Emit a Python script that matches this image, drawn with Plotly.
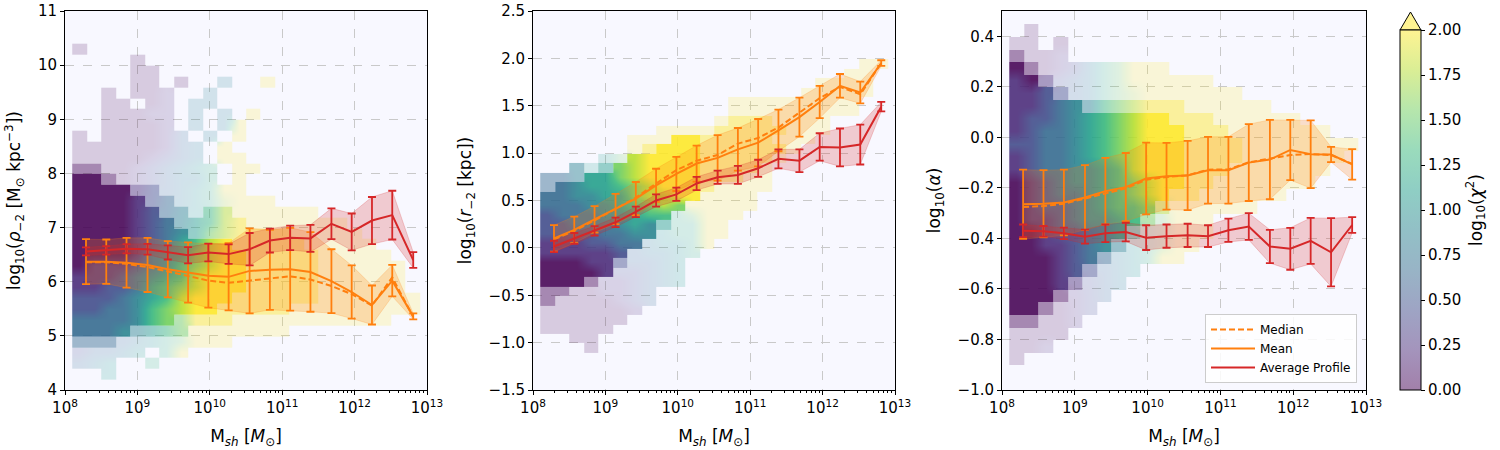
import math
import plotly.graph_objects as go
import plotly.express as px

# ---------------- data ----------------
mass_bins = [8.29, 8.57, 8.85, 9.14, 9.42, 9.70, 9.98, 10.26, 10.55,
             10.83, 11.11, 11.39, 11.68, 11.96, 12.24, 12.52, 12.81]   # log10 M_sh

rho_mean = [6.37, 6.37, 6.35, 6.31, 6.23, 6.17, 6.11, 6.09, 6.20, 6.22,
            6.23, 6.18, 6.01, 5.81, 5.57, 6.02, 5.36]
rho_mean_err = [0.415, 0.41, 0.46, 0.50, 0.52, 0.555, 0.59, 0.62, 0.785, 0.74,
                0.765, 0.735, 0.59, 0.49, 0.36, 0.29, 0.055]
rho_median = [6.36, 6.36, 6.33, 6.27, 6.19, 6.11, 6.02, 5.98, 6.02, 6.05,
              6.10, 6.04, 5.92, 5.77, 5.56, 6.08, 5.35]
rho_avg = [6.56, 6.58, 6.61, 6.60, 6.54, 6.49, 6.54, 6.51, 6.60, 6.76,
           6.81, 6.80, 7.07, 6.92, 7.13, 7.23, 6.40]
rho_avg_err = [0.075, 0.078, 0.085, 0.10, 0.13, 0.15, 0.165, 0.18, 0.30, 0.22,
               0.225, 0.25, 0.285, 0.34, 0.435, 0.45, 0.145]

r_mean = [0.10, 0.19, 0.30, 0.41, 0.52, 0.66, 0.78, 0.89, 0.95, 1.04,
          1.11, 1.24, 1.38, 1.54, 1.71, 1.64, 1.95]
r_mean_err = [0.14, 0.14, 0.14, 0.16, 0.175, 0.175, 0.18, 0.19, 0.24, 0.225,
              0.25, 0.22, 0.205, 0.17, 0.125, 0.115, 0.03]
r_median = [0.09, 0.18, 0.29, 0.41, 0.53, 0.68, 0.82, 0.92, 0.98, 1.10,
            1.16, 1.27, 1.43, 1.58, 1.70, 1.62, 1.95]
r_avg = [0.015, 0.10, 0.18, 0.27, 0.38, 0.50, 0.565, 0.68, 0.745, 0.77,
         0.84, 0.94, 0.92, 1.065, 1.06, 1.09, 1.49]
r_avg_err = [0.06, 0.057, 0.05, 0.05, 0.055, 0.065, 0.07, 0.07, 0.07, 0.095,
             0.09, 0.10, 0.12, 0.145, 0.20, 0.21, 0.05]

a_mean = [-0.265, -0.263, -0.258, -0.238, -0.213, -0.197, -0.163, -0.154, -0.151,
          -0.130, -0.130, -0.100, -0.088, -0.050, -0.067, -0.068, -0.107]
a_mean_err = [0.137, 0.133, 0.13, 0.128, 0.132, 0.135, 0.142, 0.132, 0.137,
              0.132, 0.132, 0.152, 0.157, 0.119, 0.134, 0.03, 0.06]
a_median = [-0.276, -0.272, -0.263, -0.242, -0.220, -0.202, -0.168, -0.157, -0.150,
            -0.128, -0.127, -0.099, -0.084, -0.070, -0.066, -0.070, -0.105]
a_avg = [-0.370, -0.372, -0.380, -0.393, -0.380, -0.375, -0.397, -0.391, -0.388,
         -0.391, -0.368, -0.353, -0.432, -0.441, -0.410, -0.455, -0.347]
a_avg_err = [0.025, 0.021, 0.023, 0.028, 0.035, 0.037, 0.049, 0.046, 0.046,
             0.043, 0.046, 0.053, 0.066, 0.083, 0.091, 0.135, 0.031]

# Scatter cloud, read as a coarse grid of cells (0.2 dex in mass).
# char: '.' empty, digit = dense cell, UPPER = medium, lower = sparse;
# the level (0-9 / A-J / a-j) is the typical log10(chi^2) colour (0 -> 0, 9 -> 2).
cloud_mass_start = 8.1
cloud_mass_step = 0.2

rho_cloud_top, rho_cloud_step = 10.4, 0.2
rho_cloud = [
    "........................",
    "a.......................",
    "....a...................",
    "....aa..................",
    "....aa.a..e..j..........",
    "..a.aab..e..............",
    "..aa.ab.ee..............",
    "..aaabb.e.e.j...........",
    "..aaaab.e.ej............",
    "a.aaaabd.e.j............",
    "aaaaaabde.j.............",
    "aaaaabcde.jj............",
    "AAaabcdefg.jj...........",
    "00Aabcdeeg.j............",
    "0000BCdefgjj............",
    "00001CDefgijjj..........",
    "000012DEfGIjjjjjj.......",
    "0000123EFGIJjjjjjjj.....",
    "00001234FHIJJJJjjjjj....",
    "00001235689JJJJJjjjjj...",
    "000013457899JJJJJjjjjj..",
    "011123467899JJJJJjjjjjj.",
    "111234568999JJJJJjjjjjj.",
    "112235678999JJJJJjjjjjj.",
    "22234568999JJJJJJjjjjjjj",
    "2233467899JJJJJjjjjjjjjj",
    "3333467HJJJjjjjjjjjjjj..",
    "3334EFGHjjjjjjj.........",
    "DDDdefghjjj.............",
    "cddef.gj................",
    "def..g..................",
    "..f.....................",
]

r_cloud_top, r_cloud_step = 2.0, 0.1
r_cloud = [
    "........................",
    "......................jj",
    ".....................jj.",
    "...................jjjj.",
    "..................jjjjj.",
    ".............jjjjjjjjj..",
    ".............jjjjjjjjj..",
    "............jJJJjjjj....",
    "........jjjjJJJJJjjj....",
    "......jjj99JJJJJjjj.....",
    "......jJ999JJJJJJj......",
    "....fh89999JJJJJj.......",
    "..EfF789999JJJJj........",
    "DDE55789999JJJjj........",
    "D3455678999Jjjjj........",
    "33445578899jjjj.........",
    "3334456787jjjjj.........",
    "233344566ghjjj..........",
    "22333454Fggjj...........",
    "22223344fggjj...........",
    "1112233effgj............",
    "111112deefg.............",
    "00011Cddef..............",
    "00001ccdef..............",
    "000Abbcdef..............",
    "AAaabbcd................",
    "Aaaaabcd................",
    "aaaaaab.................",
    "aaaaaa..................",
    "aaaaa...................",
    "..aa....................",
    "...a....................",
    "........................",
    "........................",
    "........................",
    "........................",
]

a_cloud_top, a_cloud_step = 0.45, 0.05
a_cloud = [
    "........................",
    ".a......................",
    "aa.a....................",
    "Aaab....................",
    "0Aabceghjjj.............",
    "10Bcdeghjjjjjj..........",
    "112Cdeghijjjjjjj........",
    "11234EGHIJJJjjjjjj......",
    "12234567899JJJjjjjjj....",
    "123345678999JJJjjjjjjj..",
    "223345678999JJJJjjjjjjjj",
    "123345678999JJJJjjjjjjj.",
    "123344568999JJJjjjjjjj..",
    "012344567899JJjjjjjjj...",
    "01233456789JJjjjjjj.....",
    "0122345667Ijjjjjj.......",
    "011234456Hhjjj..........",
    "00122345Fghjjj..........",
    "0011234Efghjj...........",
    "000123Defgjj............",
    "00012Cdef...............",
    "0001Bcde................",
    "000Abcd.................",
    "00Aabc..................",
    "AAaab...................",
    "aaaa....................",
    "aab.....................",
    "a.......................",
    "........................",
    "........................",
]

x_tick_exponents = [8, 9, 10, 11, 12, 13]
chi_ticks = [0.0, 0.25, 0.5, 0.75, 1.0, 1.25, 1.5, 1.75, 2.0]

# ---------------- styling ----------------
FONT = "DejaVu Sans"
ORANGE = "#ff7f0e"
RED = "#d62728"
W, H = 1500, 450

def px2x(p):
    return p / W

def px2y(p):
    return 1 - p / H

panels = [
    dict(xd=(65, 427), ya=(4, 11), yt=list(range(4, 12)), fmt="d",
         title="log<sub>10</sub>(<i>ρ</i><sub>−2</sub> [M<sub>⊙</sub> kpc<sup>−3</sup>])",
         mean=rho_mean, err=rho_mean_err, med=rho_median, avg=rho_avg, aerr=rho_avg_err,
         cloud=rho_cloud, ctop=rho_cloud_top, cstep=rho_cloud_step),
    dict(xd=(533, 895), ya=(-1.5, 2.5), yt=[-1.5, -1.0, -0.5, 0.0, 0.5, 1.0, 1.5, 2.0, 2.5], fmt=".1f",
         title="log<sub>10</sub>(<i>r</i><sub>−2</sub> [kpc])",
         mean=r_mean, err=r_mean_err, med=r_median, avg=r_avg, aerr=r_avg_err,
         cloud=r_cloud, ctop=r_cloud_top, cstep=r_cloud_step),
    dict(xd=(1002, 1366), ya=(-1.0, 0.5), yt=[-1.0, -0.8, -0.6, -0.4, -0.2, 0.0, 0.2, 0.4], fmt=".1f",
         title="log<sub>10</sub>(<i>α</i>)",
         mean=a_mean, err=a_mean_err, med=a_median, avg=a_avg, aerr=a_avg_err,
         cloud=a_cloud, ctop=a_cloud_top, cstep=a_cloud_step),
]


def parse_cloud(rows, ytop, dy):
    ncol = 24
    rows = [r.ljust(ncol, ".")[:ncol] for r in rows][::-1]   # bottom row first
    nrow = len(rows)
    layers = {k: [[None] * ncol for _ in range(nrow)] for k in ("dense", "medium", "sparse")}
    for i, row in enumerate(rows):
        for j, ch in enumerate(row):
            if ch.isdigit():
                layers["dense"][i][j] = int(ch) * 2 / 9
            elif "A" <= ch <= "J":
                layers["medium"][i][j] = (ord(ch) - 65) * 2 / 9
            elif "a" <= ch <= "j":
                layers["sparse"][i][j] = (ord(ch) - 97) * 2 / 9
    ybot = ytop - (nrow - 1) * dy
    ys = [ybot + dy * (i + 0.5) for i in range(nrow)]
    xs = [cloud_mass_start + cloud_mass_step * (j + 0.5) for j in range(ncol)]
    return xs, ys, layers


fig = go.Figure()
opac = {"dense": 0.88, "medium": 0.45, "sparse": 0.18}

for k, p in enumerate(panels):
    xa = "x" if k == 0 else f"x{k+1}"
    ya = "y" if k == 0 else f"y{k+1}"
    xs, ys, layers = parse_cloud(p["cloud"], p["ctop"], p["cstep"])
    for name in ("sparse", "medium", "dense"):
        fig.add_trace(go.Heatmap(x=xs, y=ys, z=layers[name], colorscale="Viridis",
                                 zmin=0, zmax=2, showscale=False, opacity=opac[name],
                                 hoverinfo="skip", xaxis=xa, yaxis=ya, zsmooth="best"))
    # bands
    for cen, err, fc in ((p["mean"], p["err"], "rgba(255,127,14,0.22)"),
                         (p["avg"], p["aerr"], "rgba(214,39,40,0.22)")):
        up = [c + e for c, e in zip(cen, err)]
        lo = [c - e for c, e in zip(cen, err)]
        fig.add_trace(go.Scatter(x=mass_bins + mass_bins[::-1], y=up + lo[::-1],
                                 fill="toself", fillcolor=fc, mode="lines",
                                 line=dict(color=fc, width=1), hoverinfo="skip",
                                 showlegend=False, xaxis=xa, yaxis=ya))
    leg = (k == 2)
    fig.add_trace(go.Scatter(x=mass_bins, y=p["med"], mode="lines", name="Median",
                             line=dict(color=ORANGE, width=2, dash="6px,3px"),
                             showlegend=leg, xaxis=xa, yaxis=ya))
    fig.add_trace(go.Scatter(x=mass_bins, y=p["mean"], mode="lines", name="Mean",
                             line=dict(color=ORANGE, width=2),
                             error_y=dict(type="data", array=p["err"], color=ORANGE,
                                          thickness=1.8, width=4),
                             showlegend=leg, xaxis=xa, yaxis=ya))
    fig.add_trace(go.Scatter(x=mass_bins, y=p["avg"], mode="lines", name="Average Profile",
                             line=dict(color=RED, width=2),
                             error_y=dict(type="data", array=p["aerr"], color=RED,
                                          thickness=1.8, width=4),
                             showlegend=leg, xaxis=xa, yaxis=ya))

# pale viridis for the colorbar (alpha 0.5 on white)
def blend(hexc, a=0.5):
    hexc = hexc.lstrip("#")
    r, g, b = (int(hexc[i:i + 2], 16) for i in (0, 2, 4))
    return "rgb(%d,%d,%d)" % tuple(round(a * c + (1 - a) * 255) for c in (r, g, b))

vir = px.colors.sequential.Viridis
pale = [[i / (len(vir) - 1), blend(c)] for i, c in enumerate(vir)]

fig.add_trace(go.Scatter(
    x=[None], y=[None], mode="markers", showlegend=False, hoverinfo="skip",
    xaxis="x3", yaxis="y3",
    marker=dict(color=[0], colorscale=pale, cmin=0, cmax=2, showscale=True,
                colorbar=dict(x=px2x(1400), xanchor="left", y=px2y(390), yanchor="bottom",
                              len=360 / H, lenmode="fraction", thickness=21,
                              thicknessmode="pixels", outlinewidth=1, outlinecolor="black",
                              xpad=0, ypad=0,
                              tickvals=chi_ticks, ticktext=["%.2f" % t for t in chi_ticks],
                              ticks="outside", ticklen=4, tickcolor="black",
                              tickfont=dict(family=FONT, size=15, color="black"),
                              title=dict(text="log<sub>10</sub>(<i>χ</i><sup>2</sup>)",
                                         side="right",
                                         font=dict(family=FONT, size=17, color="black"))))))

minor_vals = [n + math.log10(m) for n in range(8, 13) for m in range(2, 10)]

common = dict(showline=True, linecolor="black", linewidth=1, mirror=True,
              ticks="outside", ticklen=4, tickwidth=1, tickcolor="black",
              showgrid=True, gridcolor="#c9c9c9", griddash="dash", gridwidth=0.8,
              zeroline=False, automargin=False, ticklabeloverflow="allow",
              tickfont=dict(family=FONT, size=15, color="black"))

layout = dict(width=W, height=H, margin=dict(l=0, r=0, t=0, b=0),
              paper_bgcolor="white", plot_bgcolor="#F8F8FF",
              font=dict(family=FONT, size=15, color="black"),
              showlegend=True,
              legend=dict(x=px2x(1357), xanchor="right", y=px2y(383), yanchor="bottom",
                          bgcolor="rgba(255,255,255,0.85)", bordercolor="#cccccc",
                          borderwidth=1, font=dict(family=FONT, size=12, color="black"),
                          itemwidth=44, tracegroupgap=0))

for k, p in enumerate(panels):
    xk = "xaxis" if k == 0 else f"xaxis{k+1}"
    yk = "yaxis" if k == 0 else f"yaxis{k+1}"
    xa = "x" if k == 0 else f"x{k+1}"
    ya = "y" if k == 0 else f"y{k+1}"
    layout[xk] = dict(common, domain=[px2x(p["xd"][0]), px2x(p["xd"][1])], range=[8, 13],
                      anchor=ya, tickmode="array", tickvals=x_tick_exponents,
                      ticktext=["10<sup>%d</sup>" % e for e in x_tick_exponents],
                      minor=dict(tickmode="array", tickvals=minor_vals, ticks="outside",
                                 ticklen=2, tickcolor="black", showgrid=False),
                      title=dict(text="M<sub><i>sh</i></sub> [<i>M</i><sub>⊙</sub>]",
                                 font=dict(family=FONT, size=17), standoff=14))
    layout[yk] = dict(common, domain=[px2y(390), px2y(11)], range=list(p["ya"]),
                      anchor=xa, tickmode="array", tickvals=p["yt"],
                      ticktext=[(("%d" % v) if p["fmt"] == "d" else ("%.1f" % v)).replace("-", "−")
                                for v in p["yt"]],
                      title=dict(text=p["title"], font=dict(family=FONT, size=17), standoff=12))

fig.update_layout(**layout)

fig.add_shape(type="path", xref="paper", yref="paper",
              path="M %f,%f L %f,%f L %f,%f Z" % (px2x(1400), px2y(30), px2x(1410.5), px2y(12),
                                                  px2x(1421), px2y(30)),
              fillcolor=blend("#fde725"), line=dict(color="black", width=1))

fig.write_html("out.html", config={"displayModeBar": False},
               post_script="document.body.style.margin='0px'; document.body.style.overflow='hidden';")
